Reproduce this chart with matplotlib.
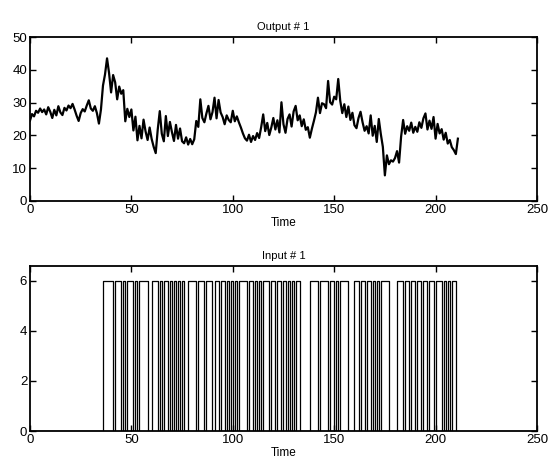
import numpy as np
import matplotlib
matplotlib.use("Agg")
import matplotlib.pyplot as plt

# output # 1, one value per sample
output_1 = [
    24.5, 26.5, 25.8, 27.5, 26.9, 28.2, 27.1, 27.9, 26.4, 28.6,
    27.2, 25.3, 27.8, 26.1, 28.9, 27.0, 26.2, 28.4, 27.6, 29.1,
    28.3, 29.6, 27.9, 26.0, 24.4, 26.8, 28.0, 27.3, 29.1, 30.7,
    28.2, 27.5, 28.9, 26.8, 23.6, 27.9, 35.2, 38.6, 43.5, 39.0,
    33.1, 38.4, 36.2, 31.0, 34.9, 32.7, 33.8, 24.3, 28.1, 25.6,
    27.9, 21.5, 25.7, 18.5, 22.9, 19.1, 24.8, 21.2, 18.6, 22.4,
    18.9, 16.5, 14.6, 21.8, 27.4, 20.5, 18.2, 25.9, 19.8, 24.1,
    21.0, 18.3, 23.2, 19.0, 22.1, 18.2, 17.6, 19.4, 17.2, 18.9,
    17.3, 18.8, 24.4, 22.6, 31.0, 25.3, 24.0, 26.7, 29.0, 24.9,
    27.1, 31.5, 25.2, 30.8, 27.0, 25.6, 23.4, 26.1, 24.7, 24.0,
    27.5, 24.3, 25.8, 24.0, 22.4, 20.6, 19.1, 18.4, 20.2, 18.0,
    19.8, 18.6, 20.7, 19.2, 22.5, 26.4, 21.3, 23.8, 20.1, 22.4,
    25.3, 21.8, 24.6, 20.9, 30.1, 23.4, 20.8, 25.0, 26.4, 22.7,
    27.3, 29.0, 24.6, 26.1, 22.8, 24.9, 21.7, 22.5, 19.3, 22.0,
    24.4, 27.0, 31.5, 26.8, 29.8, 29.5, 28.3, 36.6, 30.1, 29.4,
    31.8, 31.0, 37.2, 30.5, 26.8, 29.5, 25.6, 28.8, 24.7, 26.9,
    23.1, 22.2, 25.3, 27.2, 24.0, 21.4, 22.8, 20.6, 26.1, 19.9,
    22.9, 18.0, 25.0, 20.4, 16.5, 7.8, 13.9, 11.2, 12.4, 12.0,
    13.1, 15.2, 11.7, 19.6, 24.7, 20.5, 22.8, 21.4, 23.9, 20.8,
    22.6, 21.1, 24.0, 22.3, 25.2, 26.7, 21.8, 24.5, 22.0, 25.6,
    19.0, 23.5, 20.6, 21.9, 18.7, 20.8, 17.5, 18.6, 16.4, 15.5,
    14.3, 19.0,
]

# input # 1: sample ranges [start, end) where the input sits at its high level
input_on = [
    (36, 41), (42, 45), (46, 47), (48, 51), (52, 53), (54, 58), (60, 63),
    (64, 65), (66, 68), (69, 70), (71, 72), (73, 74), (75, 76), (78, 82),
    (83, 86), (87, 90), (91, 93), (94, 96), (97, 98), (99, 100), (101, 102),
    (103, 107), (108, 110), (111, 112), (113, 114), (115, 118), (119, 121),
    (122, 124), (125, 126), (127, 128), (129, 130), (131, 133), (138, 142),
    (143, 147), (148, 150), (151, 152), (153, 157), (160, 162), (163, 165),
    (166, 168), (169, 170), (171, 172), (173, 177), (181, 184), (185, 187),
    (188, 190), (191, 193), (194, 196), (197, 199), (200, 203), (204, 205),
    (206, 207), (208, 210),
]
input_level = 6

plt.rcParams['font.family'] = ['Liberation Sans', 'DejaVu Sans']
plt.rcParams['font.size'] = 8.5

t = np.arange(len(output_1))
u = np.zeros(len(output_1))
for a, b in input_on:
    u[a:b] = input_level

fig = plt.figure(figsize=(5.49, 4.63), dpi=100)
ax1 = fig.add_axes([0.0546, 0.566, 0.9235, 0.354])
ax2 = fig.add_axes([0.0546, 0.069, 0.9235, 0.357])

ax1.plot(t, output_1, color='black', lw=1.6)
ax1.set_xlim(0, 250)
ax1.set_ylim(0, 50)
ax1.set_yticks([0, 10, 20, 30, 40, 50])
ax1.set_title('Output # 1', fontsize=8, pad=5)
ax1.set_xlabel('Time', fontsize=8.5, labelpad=1)

ax2.step(t, u, where='post', color='black', lw=0.9)
ax2.set_xlim(0, 250)
ax2.set_ylim(0, 6.6)
ax2.set_yticks([0, 2, 4, 6])
ax2.set_title('Input # 1', fontsize=8, pad=5)
ax2.set_xlabel('Time', fontsize=8.5, labelpad=1)

for ax in (ax1, ax2):
    ax.set_xticks([0, 50, 100, 150, 200, 250])
    ax.tick_params(direction='in', top=True, right=True, length=4, width=1, pad=2,
                   labelsize=9.5)
    for s in ax.spines.values():
        s.set_linewidth(1.3)

fig.savefig('out.png', dpi=100)
